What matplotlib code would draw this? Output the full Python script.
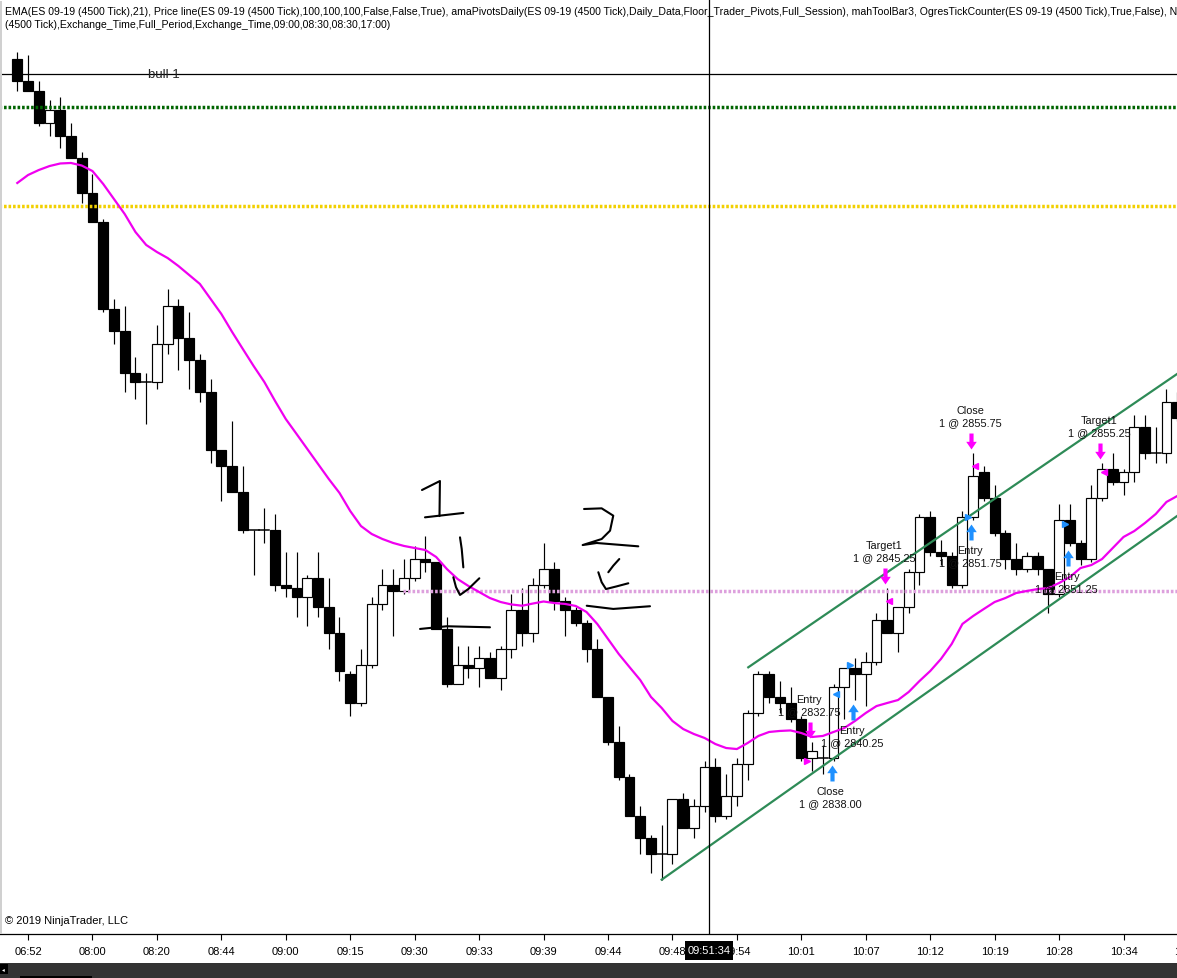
import matplotlib
matplotlib.use("Agg")
import matplotlib.pyplot as plt
from matplotlib.path import Path
from matplotlib.patches import Rectangle
from matplotlib.transforms import offset_copy, blended_transform_factory

plt.rcParams['font.family'] = ['Liberation Sans', 'DejaVu Sans']

# ---------------------------------------------------------------- data
# ES 09-19, 4500-tick bars
opens = [2887.5, 2885.75, 2885.0, 2882.5, 2883.5, 2881.5, 2879.75, 2877.0, 2874.75, 2868.0,
         2866.25, 2863.0, 2862.25, 2862.25, 2865.25, 2868.25, 2865.75, 2864.0, 2861.5, 2857.0,
         2855.75, 2853.75, 2850.75, 2850.75, 2850.75, 2846.5, 2846.25, 2845.5, 2847.0, 2844.75,
         2842.75, 2839.5, 2837.25, 2840.25, 2845.0, 2846.5, 2846.0, 2847.0, 2848.5, 2848.25,
         2843.0, 2838.75, 2840.25, 2840.0, 2840.75, 2839.25, 2841.5, 2844.5, 2842.75, 2846.5,
         2847.75, 2845.25, 2844.5, 2843.5, 2841.5, 2837.75, 2834.25, 2831.5, 2828.5, 2826.75,
         2825.5, 2825.5, 2829.75, 2827.5, 2829.25, 2832.25, 2828.5, 2830.0, 2832.5, 2836.5,
         2839.5, 2837.75, 2837.25, 2836.0, 2833.0, 2833.0, 2833.0, 2838.5, 2840.0, 2839.5,
         2840.5, 2843.75, 2842.75, 2844.75, 2847.5, 2851.75, 2849.0, 2848.75, 2846.5, 2851.75,
         2855.25, 2853.25, 2850.5, 2848.5, 2847.75, 2848.75, 2847.75, 2845.75, 2851.5, 2849.75,
         2848.5, 2853.25, 2855.5, 2854.5, 2855.25, 2858.75, 2856.75, 2856.75, 2860.75]
highs = [2888.0, 2887.75, 2885.75, 2884.25, 2884.5, 2882.5, 2880.25, 2878.5, 2875.0, 2868.75,
         2868.25, 2864.25, 2863.0, 2866.75, 2869.5, 2868.75, 2867.75, 2864.5, 2862.5, 2857.0,
         2859.25, 2855.75, 2850.75, 2852.5, 2852.0, 2849.0, 2849.0, 2847.25, 2849.0, 2847.0,
         2844.0, 2839.75, 2841.5, 2845.5, 2847.75, 2847.75, 2848.5, 2849.5, 2850.25, 2848.25,
         2844.0, 2841.75, 2841.75, 2841.75, 2841.25, 2841.75, 2845.75, 2846.25, 2847.0, 2849.75,
         2848.25, 2845.5, 2844.75, 2843.75, 2842.25, 2837.75, 2835.5, 2831.75, 2829.25, 2827.0,
         2827.75, 2829.75, 2830.25, 2829.75, 2832.75, 2833.0, 2831.75, 2833.0, 2836.75, 2839.75,
         2839.75, 2839.0, 2838.5, 2836.25, 2834.25, 2834.0, 2838.75, 2840.0, 2840.75, 2841.25,
         2844.25, 2846.25, 2844.75, 2847.75, 2852.0, 2852.25, 2850.0, 2849.0, 2852.25, 2856.75,
         2855.75, 2854.25, 2850.75, 2849.75, 2849.0, 2849.0, 2847.75, 2852.75, 2852.75, 2850.0,
         2854.25, 2856.0, 2856.75, 2855.5, 2859.75, 2859.75, 2858.75, 2861.75, 2861.5]
lows = [2885.0, 2885.0, 2882.25, 2881.5, 2880.5, 2879.75, 2876.25, 2874.75, 2867.75, 2865.25,
        2861.5, 2861.0, 2859.0, 2861.75, 2864.5, 2863.25, 2861.75, 2860.75, 2856.0, 2853.0,
        2853.75, 2850.5, 2847.25, 2849.75, 2846.0, 2845.5, 2844.0, 2843.25, 2844.0, 2841.5,
        2839.0, 2836.25, 2837.0, 2840.0, 2844.5, 2842.5, 2845.75, 2846.75, 2847.5, 2843.0,
        2838.5, 2838.75, 2839.25, 2838.5, 2839.25, 2838.25, 2840.75, 2841.75, 2842.0, 2846.25,
        2844.5, 2842.5, 2843.25, 2840.5, 2837.75, 2834.0, 2831.25, 2828.5, 2825.5, 2824.0,
        2823.5, 2824.75, 2827.5, 2826.75, 2828.75, 2828.0, 2828.25, 2829.25, 2831.25, 2836.25,
        2837.25, 2836.5, 2835.75, 2832.75, 2832.0, 2831.75, 2832.75, 2836.0, 2837.5, 2837.0,
        2840.25, 2842.75, 2841.25, 2844.25, 2846.5, 2848.75, 2848.0, 2846.25, 2846.25, 2851.5,
        2853.0, 2850.25, 2847.75, 2847.25, 2847.5, 2847.25, 2844.25, 2845.5, 2849.5, 2848.0,
        2848.25, 2853.0, 2854.25, 2853.5, 2854.5, 2856.25, 2856.0, 2856.0, 2859.25]
closes = [2885.75, 2885.0, 2882.5, 2883.5, 2881.5, 2879.75, 2877.0, 2874.75, 2868.0, 2866.25,
          2863.0, 2862.25, 2862.25, 2865.25, 2868.25, 2865.75, 2864.0, 2861.5, 2857.0, 2855.75,
          2853.75, 2850.75, 2850.75, 2850.75, 2846.5, 2846.25, 2845.5, 2847.0, 2844.75, 2842.75,
          2839.75, 2837.25, 2840.25, 2845.0, 2846.5, 2846.0, 2847.0, 2848.5, 2848.25, 2843.0,
          2838.75, 2840.25, 2840.0, 2840.75, 2839.25, 2841.5, 2844.5, 2842.75, 2846.5, 2847.75,
          2845.25, 2844.5, 2843.5, 2841.5, 2837.75, 2834.25, 2831.5, 2828.5, 2826.75, 2825.5,
          2825.5, 2829.75, 2827.5, 2829.25, 2832.25, 2828.5, 2830.0, 2832.5, 2836.5, 2839.5,
          2837.75, 2837.25, 2836.0, 2833.0, 2833.5, 2833.0, 2838.5, 2840.0, 2839.5, 2840.5,
          2843.75, 2842.75, 2844.75, 2847.5, 2851.75, 2849.0, 2848.75, 2846.5, 2851.75, 2855.0,
          2853.25, 2850.5, 2848.5, 2847.75, 2848.75, 2847.75, 2845.75, 2851.5, 2849.75, 2848.5,
          2853.25, 2855.5, 2854.5, 2855.25, 2858.75, 2856.75, 2856.75, 2860.75, 2859.5]

# EMA(21) plot values per bar
ema21 = [2877.80, 2878.42, 2878.81, 2879.12, 2879.32, 2879.36, 2879.16, 2878.73, 2877.72, 2876.55,
         2875.38, 2873.98, 2872.97, 2872.42, 2871.95, 2871.33, 2870.63, 2869.93, 2868.76, 2867.59,
         2866.19, 2864.86, 2863.54, 2862.29, 2860.81, 2859.40, 2858.24, 2857.07, 2855.90, 2854.73,
         2853.64, 2852.23, 2851.06, 2850.44, 2850.05, 2849.74, 2849.51, 2849.35, 2849.19, 2848.65,
         2847.71, 2846.93, 2846.39, 2845.92, 2845.45, 2845.14, 2844.95, 2844.85, 2845.02, 2845.18,
         2845.06, 2844.99, 2844.83, 2844.36, 2843.43, 2842.26, 2841.09, 2840.07, 2839.06, 2837.74,
         2836.88, 2835.87, 2835.24, 2834.85, 2834.54, 2834.07, 2833.76, 2833.68, 2834.15, 2834.70,
         2835.01, 2835.09, 2835.13, 2834.93, 2834.62, 2834.70, 2835.01, 2835.32, 2835.87, 2836.49,
         2837.03, 2837.27, 2837.50, 2838.13, 2838.98, 2839.76, 2840.70, 2841.87, 2843.43, 2844.05,
         2844.60, 2845.14, 2845.45, 2845.84, 2846.00, 2846.15, 2846.23, 2846.62, 2847.09, 2847.79,
         2848.02, 2848.49, 2849.35, 2850.21, 2850.67, 2851.30, 2852.00, 2852.94, 2853.40]

# time axis
tick_bars = [1, 7, 13, 19, 25, 31, 37, 43, 49, 55, 61, 67, 73, 79, 85, 91, 97, 103, 109]
tick_labels = ["06:52", "08:00", "08:20", "08:44", "09:00", "09:15", "09:30", "09:33", "09:39",
               "09:44", "09:48", "09:54", "10:01", "10:07", "10:12", "10:19", "10:28", "10:34",
               "10:41"]

# floor trader pivots
pivot_levels = [2883.75, 2876.0, 2846.0]
pivot_first_bar = [-2.0, -2.0, 35.9]
pivot_colors = ["#006400", "#f2d000", "#dda0dd"]

# executions
exec_bars = [74, 76, 78, 81, 89, 89, 98, 101]
exec_prices = [2832.75, 2838.00, 2840.25, 2845.25, 2851.75, 2855.75, 2851.25, 2855.25]
exec_names = ["Entry", "Close", "Entry", "Target1", "Entry", "Close", "Entry", "Target1"]
exec_sides = ["sell", "buy", "buy", "sell", "buy", "sell", "buy", "sell"]

# drawing objects
bull_level = 2886.3
crosshair_bar = 64.40
crosshair_time = "09:51:34"
channel_lower = [(60.0, 2823.50), (107.98, 2851.84)]
channel_upper = [(68.06, 2840.05), (107.98, 2862.91)]

# hand-drawn marks (bar index, price)
pen_strokes = [
    [(37.68, 2853.87), (39.35, 2854.57), (39.31, 2851.84)],
    [(37.96, 2851.74), (41.53, 2852.08)],
    [(41.22, 2850.18), (41.38, 2849.27), (41.53, 2847.84)],
    [(40.60, 2847.07), (40.85, 2846.29), (41.22, 2845.69), (41.99, 2846.15), (43.02, 2846.99)],
    [(37.50, 2843.04), (39.98, 2843.25), (44.01, 2843.17)],
    [(52.77, 2852.39), (54.41, 2852.44), (55.49, 2851.87), (55.19, 2850.70), (54.41, 2850.05),
     (52.64, 2849.58), (53.95, 2849.74), (57.82, 2849.48)],
    [(56.05, 2848.49), (55.49, 2847.97), (55.03, 2847.46)],
    [(54.10, 2847.46), (54.41, 2846.68), (54.81, 2846.15), (55.81, 2846.36), (56.89, 2846.60)],
    [(53.02, 2844.85), (55.49, 2844.60), (58.91, 2844.81)],
]

header_lines = [
    "EMA(ES 09-19 (4500 Tick),21), Price line(ES 09-19 (4500 Tick),100,100,100,False,False,True), "
    "amaPivotsDaily(ES 09-19 (4500 Tick),Daily_Data,Floor_Trader_Pivots,Full_Session), mahToolBar3, "
    "OgresTickCounter(ES 09-19 (4500 Tick),True,False), N",
    "(4500 Tick),Exchange_Time,Full_Period,Exchange_Time,09:00,08:30,08:30,17:00)",
]

# ---------------------------------------------------------------- layout
W, H, DPI = 1177, 979, 100
AX_BOTTOM_PX = 935
BAR0_PX, BAR_STEP_PX = 17.3, 10.74
PRICE_TOP, PX_PER_POINT = 2892.14, 12.83

fig = plt.figure(figsize=(W / DPI, H / DPI), dpi=DPI)
fig.patch.set_facecolor("white")
ax = fig.add_axes([0, (H - AX_BOTTOM_PX) / H, 1, AX_BOTTOM_PX / H])
ax.set_facecolor("white")
ax.set_xlim(-BAR0_PX / BAR_STEP_PX, (W - BAR0_PX) / BAR_STEP_PX)
ax.set_ylim(PRICE_TOP - AX_BOTTOM_PX / PX_PER_POINT, PRICE_TOP)
for side in ("top", "left", "right"):
    ax.spines[side].set_visible(False)
ax.spines["bottom"].set_linewidth(0.9)
ax.spines["bottom"].set_color("black")
ax.set_yticks([])
ax.set_xticks([b for b in tick_bars if b < ax.get_xlim()[1]])
ax.tick_params(axis="x", direction="out", length=4.0, width=0.8, color="black",
               labelbottom=False)

xblend = blended_transform_factory(ax.transData, ax.transAxes)
label_y = -(952.5 - AX_BOTTOM_PX) / AX_BOTTOM_PX
for b, lab in zip(tick_bars, tick_labels):
    ax.text(b, label_y, lab, transform=xblend, ha="center", va="center",
            fontsize=8, color="black", clip_on=False)

# pivots
for lvl, first, col in zip(pivot_levels, pivot_first_bar, pivot_colors):
    ax.plot([first, ax.get_xlim()[1] + 1], [lvl, lvl], color=col, lw=2.5,
            linestyle=(0, (0.75, 0.55)), zorder=3, dash_capstyle="butt")

# candles
n = len(opens)
idx = list(range(n))
ax.vlines(idx, lows, highs, color="black", lw=0.85, zorder=2)
for i in idx:
    o, c = opens[i], closes[i]
    lo, hi = min(o, c), max(o, c)
    up = c > o
    if hi - lo < 1e-9:
        ax.plot([i - 0.46, i + 0.46], [o, o], color="black", lw=1.1, zorder=2.2)
    else:
        ax.add_patch(Rectangle((i - 0.46, lo), 0.92, hi - lo,
                               facecolor="white" if up else "black",
                               edgecolor="black", lw=0.85, zorder=2.1))

# EMA
ax.plot(idx, ema21, color="#f000f0", lw=1.6, zorder=4, solid_joinstyle="round")

# channel
for seg in (channel_lower, channel_upper):
    ax.plot([p[0] for p in seg], [p[1] for p in seg], color="#2e8b57", lw=1.6, zorder=4.5)

# horizontal line "bull 1"
ax.axhline(bull_level, color="black", lw=0.9, zorder=4)
ax.text(12.2, bull_level, "bull 1", fontsize=9.5, color="#222222", ha="left",
        va="center", zorder=5,
        transform=offset_copy(ax.transData, fig=fig, x=0, y=-0.5, units="dots"))

# crosshair
ax.axvline(crosshair_bar, color="black", lw=0.9, zorder=6)

# hand-drawn strokes
for stroke in pen_strokes:
    ax.plot([p[0] for p in stroke], [p[1] for p in stroke], color="black", lw=1.5,
            zorder=6, solid_capstyle="round", solid_joinstyle="round")

# execution markers
down_arrow = Path([(-0.13, 0.5), (0.13, 0.5), (0.13, -0.02), (0.33, -0.02), (0.0, -0.5),
                   (-0.33, -0.02), (-0.13, -0.02), (-0.13, 0.5), (-0.13, 0.5)],
                  [Path.MOVETO] + [Path.LINETO] * 7 + [Path.CLOSEPOLY])
up_arrow = Path([(x, -y) for x, y in down_arrow.vertices], down_arrow.codes)
side_color = {"buy": "#1e90ff", "sell": "#ff00ff"}

for b, p, name, side in zip(exec_bars, exec_prices, exec_names, exec_sides):
    col = side_color[side]
    entry = name == "Entry"
    tri_dx = -5 if entry else 2
    ax.plot([b], [p], marker=">" if entry else "<", ms=5, color=col, mec=col,
            linestyle="none", zorder=7,
            transform=offset_copy(ax.transData, fig=fig, x=tri_dx, y=0, units="dots"))
    if side == "sell":
        base = highs[b]
        ax.plot([b], [base], marker=down_arrow, ms=11.5, color=col, mec=col, mew=0,
                linestyle="none", zorder=7,
                transform=offset_copy(ax.transData, fig=fig, x=-2, y=12, units="dots"))
        dy_qty, dy_name = 31, 43
    else:
        base = lows[b]
        ax.plot([b], [base], marker=up_arrow, ms=11.5, color=col, mec=col, mew=0,
                linestyle="none", zorder=7,
                transform=offset_copy(ax.transData, fig=fig, x=-2, y=-12, units="dots"))
        dy_qty, dy_name = -42, -30
    ax.text(b, base, name, fontsize=7.8, ha="center", va="center", color="#111111",
            zorder=8, transform=offset_copy(ax.transData, fig=fig, x=-3, y=dy_name,
                                            units="dots"))
    ax.text(b, base, f"1 @ {p:.2f}", fontsize=7.8, ha="center", va="center",
            color="#111111", zorder=8,
            transform=offset_copy(ax.transData, fig=fig, x=-3, y=dy_qty, units="dots"))

# header / footer texts (figure pixel positions)
def fy(py):
    return 1 - py / H

fig.text(5 / W, fy(12), header_lines[0], fontsize=7.6, ha="left", va="center", color="black")
fig.text(5 / W, fy(25), header_lines[1], fontsize=7.6, ha="left", va="center", color="black")
fig.text(5 / W, fy(921), "\u00a9 2019 NinjaTrader, LLC", fontsize=8, ha="left",
         va="center", color="black")

# crosshair time label on the axis
cx = ax.transData.transform((crosshair_bar, 0))[0]
fig.patches.append(Rectangle((cx - 24, H - 961), 48, 19, transform=None,
                             facecolor="black", edgecolor="none", zorder=10))
fig.text(cx / W, fy(951.5), crosshair_time, fontsize=8, ha="center", va="center",
         color="white", zorder=11)

# scroll bar
fig.patches.append(Rectangle((0, 0), W, H - 964, transform=None, facecolor="#333333",
                             edgecolor="none", zorder=10))
fig.patches.append(Rectangle((0, H - 975), 7.5, 10, transform=None, facecolor="black",
                             edgecolor="none", zorder=11))
fig.patches.append(Rectangle((20, 0), 72, 2.5, transform=None, facecolor="black",
                             edgecolor="none", zorder=11))
fig.text(3.5 / W, fy(970), "\u25c2", fontsize=4, ha="center", va="center",
         color="white", zorder=12, family=["DejaVu Sans"])

# left border
fig.patches.append(Rectangle((0, H - AX_BOTTOM_PX), 1.5, AX_BOTTOM_PX - 2, transform=None,
                             facecolor="#d0d0d0", edgecolor="none", zorder=1))

fig.savefig("out.png", dpi=DPI)
